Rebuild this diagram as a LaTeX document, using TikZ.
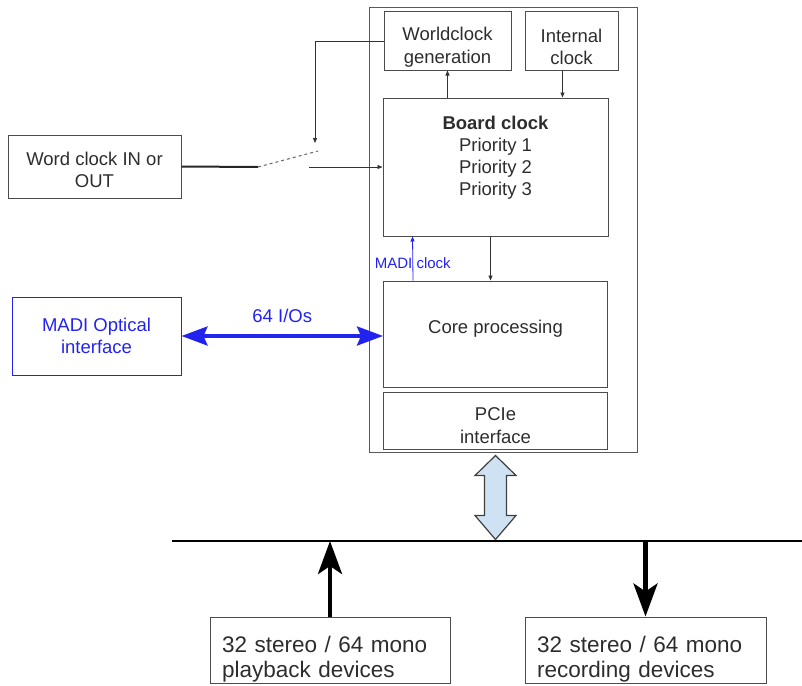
\documentclass[tikz,border=0pt]{standalone}
\usepackage{fontspec}
\setmainfont{Liberation Sans}
\usepackage{tikz}
\usetikzlibrary{arrows.meta, positioning, calc}
\definecolor{madiblue}{RGB}{35,35,240}
\definecolor{pcieblue}{RGB}{207,226,243}
\definecolor{inkgray}{RGB}{45,45,45}
\tikzstyle{block} = [rectangle, draw=black!70, line width=1pt, align=center, inner sep=0pt, text=inkgray, font=\fontsize{18.5}{22.5}\selectfont]
\tikzstyle{boardbox} = [rectangle, draw=black!65, line width=0.9pt]
\tikzstyle{devbox} = [rectangle, draw=black!70, line width=1pt, align=left, inner xsep=12pt, inner ysep=0pt, text=inkgray, font=\fontsize{22.5}{25}\selectfont]
\tikzstyle{thinarrow} = [draw=black!80, line width=0.8pt, -{Triangle[length=5pt,width=4pt]}]
\tikzstyle{madiarrow} = [draw=madiblue, line width=3.5pt, {Stealth[length=26pt,width=19pt,inset=4pt]}-{Stealth[length=26pt,width=19pt,inset=4pt]}]
\tikzstyle{devarrow} = [draw=black, line width=4.5pt, -{Stealth[length=33pt,width=24pt,inset=8pt]}]

\begin{document}
\begin{tikzpicture}[x=1pt, y=-1pt]
    \useasboundingbox (0,0) rectangle (802,685);

    \node (board) [boardbox, minimum width=268pt, minimum height=445pt] at (503,229.5) {};
    \node (wcgen) [block, minimum width=127pt, minimum height=58pt] at (447.5,41) {\rule{0pt}{25.5pt}Worldclock\\generation};
    \node (intclk) [block, minimum width=93pt, minimum height=58pt, right=13pt of wcgen] {\rule{0pt}{25.5pt}Internal\\clock};
    \node (bclk) [block, minimum width=225pt, minimum height=138pt] at (495.5,167) {};
    \node (bclktxt) [below=18pt of bclk.north, align=center, inner sep=0pt, text=inkgray, font=\fontsize{18.5}{22}\selectfont] {\textbf{Board clock}\\Priority 1\\Priority 2\\Priority 3};
    \node (core) [block, minimum width=224pt, minimum height=106pt, below=44pt of bclk] {Core processing\rule[-14pt]{0pt}{14pt}};
    \node (pcie) [block, minimum width=224pt, minimum height=57pt, below=4pt of core] {\rule{0pt}{23.5pt}PCIe\\interface};

    \node (wcio) [block, minimum width=173pt, minimum height=63pt] at (94.5,166.5) {\rule{0pt}{20.5pt}Word clock IN or\\OUT};
    \node (madi) [block, draw=madiblue, text=madiblue, minimum width=169pt, minimum height=78pt] at (96.5,336) {MADI Optical\\interface};

    \node (play) [devbox, text width=216pt, minimum height=66pt] at (330,650) {\rule{0pt}{34pt}32 stereo / 64 mono\\playback devices};
    \node (rec) [devbox, text width=217pt, minimum height=66pt, right=74pt of play] {\rule{0pt}{34pt}32 stereo / 64 mono\\recording devices};

    % clock switch
    \coordinate (swA) at (258,167);
    \coordinate (swB) at (318,151);
    \coordinate (swC) at (309,167);
    \coordinate (swT) at (315,143);
    \draw [black!85, line width=2pt] (wcio.east) -- (swA);
    \draw [black!60, line width=1pt, dashed] (swA) -- (swB);
    \draw [thinarrow] (swC) -- (bclk.west);
    \draw [thinarrow] (wcgen.west) -| (swT);

    \draw [thinarrow] (bclk.north -| wcgen.south) -- (wcgen.south);
    \draw [thinarrow] ($(intclk.south)+(-9,0)$) -- ($(intclk.south |- bclk.north)+(-9,0)$);
    \draw [thinarrow] ($(bclk.south)+(-5,0)$) -- ($(core.north)+(-5,0)$);
    \draw [thinarrow, draw=madiblue] ($(core.north west)+(30,0)$) -- node [pos=0.4, text=madiblue, inner sep=0pt, font=\fontsize{15}{15}\selectfont] {MADI clock} ($(bclk.south west)+(30,0)$);

    \draw [madiarrow] (madi.east) -- node [above=12pt, text=madiblue, inner sep=0pt, font=\fontsize{18.5}{22}\selectfont] {64 I/Os} (madi.east -| core.west);

    % PCIe bus
    \coordinate (busL) at (172,541);
    \coordinate (busR) at (802,541);
    \draw [black, line width=2pt] (busL) -- (busR);
    \draw [draw=black!75, fill=pcieblue, line width=1.2pt, shift={(pcie.south)}] (0,6) -- (20.5,26) -- (11,26) -- (11,66) -- (20.5,66) -- (0,90) -- (-20.5,66) -- (-11,66) -- (-11,26) -- (-20.5,26) -- cycle;

    \draw [devarrow] (play.north) -- (play.north |- busL);
    \draw [devarrow] (rec.north |- busL) -- (rec.north);
\end{tikzpicture}
\end{document}
